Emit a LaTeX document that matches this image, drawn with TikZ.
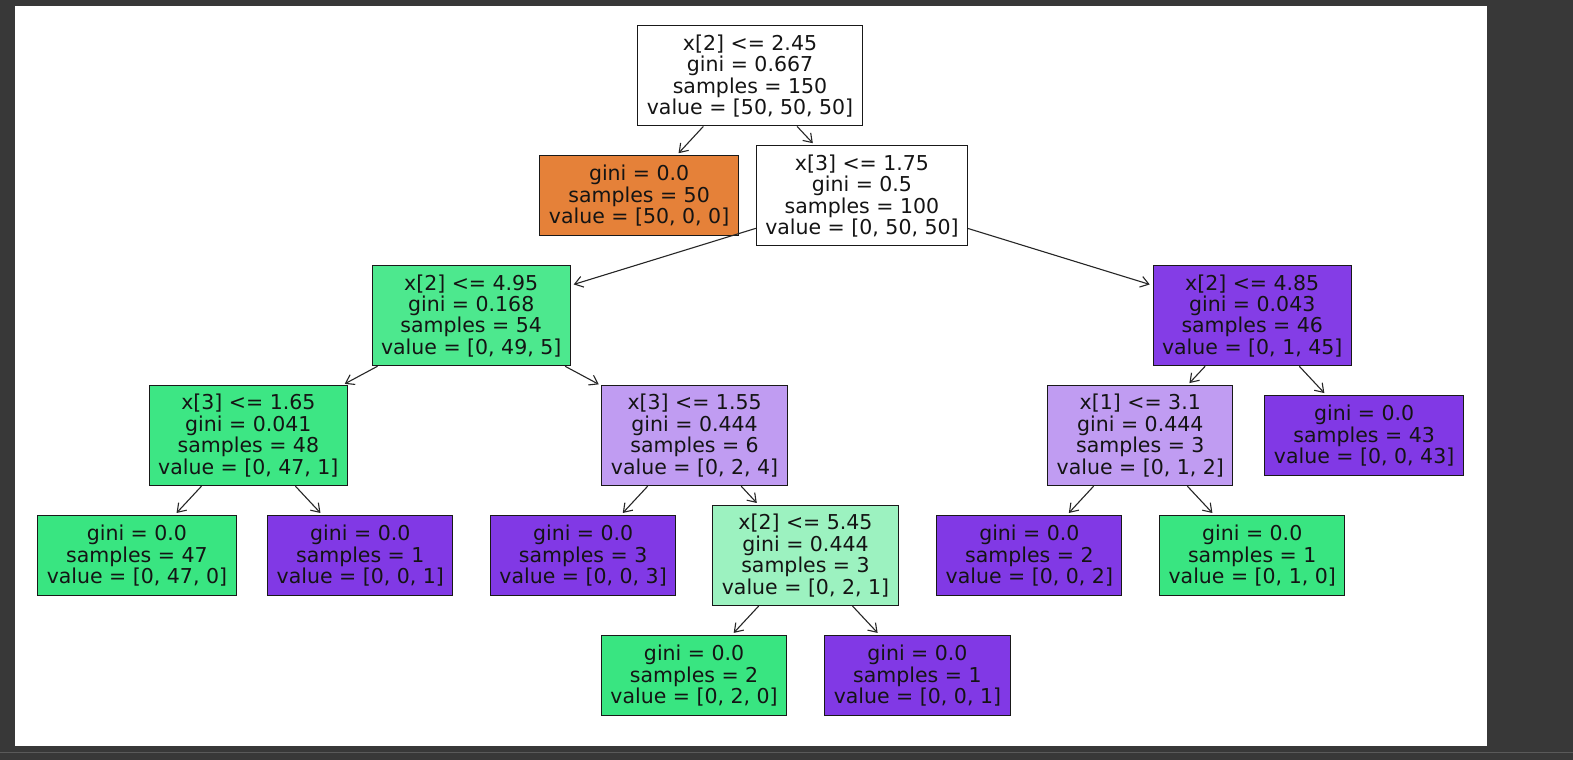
\documentclass[tikz,border=0pt]{standalone}
\usepackage{fontspec}
\setmainfont{DejaVu Sans}
\usetikzlibrary{arrows.meta}
\definecolor{bgdark}{HTML}{383838}
\definecolor{sepline}{HTML}{5A5A5A}
\definecolor{corange}{HTML}{E58139}
\definecolor{cgreen}{HTML}{39E581}
\definecolor{cpurple}{HTML}{8139E5}
\definecolor{cgreenA}{HTML}{4DE88E}
\definecolor{cgreenB}{HTML}{3DE684}
\definecolor{cgreenD}{HTML}{9CF2C0}
\definecolor{cpurpleC}{HTML}{C09CF2}
\definecolor{cpurpleE}{HTML}{843DE6}
\tikzset{
  tbox/.style={draw=black!90, line width=1pt, align=center, inner xsep=9pt, inner ysep=0pt,
    font=\fontsize{20.5}{21.5}\selectfont, text=black!92},
  split/.style={tbox, minimum height=100pt},
  leaf/.style={tbox, minimum height=80pt},
  edge/.style={draw=black!85, line width=1.1pt, -{Straight Barb[length=8pt,width=11pt,line width=1.1pt]}, shorten >=3pt}
}
\begin{document}
\begin{tikzpicture}[x=1pt,y=-1pt]
\fill[bgdark] (0,0) rectangle (1573,760);
\fill[white] (15,6) rectangle (1487,746);
\draw[sepline, line width=1pt] (0,753) -- (1573,753);
\useasboundingbox (0,0) rectangle (1573,760);

\node[split, fill=white] (r) at (750,76) {x[2] <= 2.45\\gini = 0.667\\samples = 150\\value = [50, 50, 50]};
\node[leaf, fill=corange] (o) at (639,196) {gini = 0.0\\samples = 50\\value = [50, 0, 0]};
\node[split, fill=white] (n2) at (862,196) {x[3] <= 1.75\\gini = 0.5\\samples = 100\\value = [0, 50, 50]};
\node[split, fill=cgreenA] (a) at (471,316) {x[2] <= 4.95\\gini = 0.168\\samples = 54\\value = [0, 49, 5]};
\node[split, fill=cpurpleE] (e) at (1252.5,316) {x[2] <= 4.85\\gini = 0.043\\samples = 46\\value = [0, 1, 45]};
\node[split, fill=cgreenB] (b) at (248,436) {x[3] <= 1.65\\gini = 0.041\\samples = 48\\value = [0, 47, 1]};
\node[split, fill=cpurpleC] (c) at (694.5,436) {x[3] <= 1.55\\gini = 0.444\\samples = 6\\value = [0, 2, 4]};
\node[split, fill=cpurpleC] (f) at (1140.5,436) {x[1] <= 3.1\\gini = 0.444\\samples = 3\\value = [0, 1, 2]};
\node[leaf, fill=cpurple] (l43) at (1364.5,436) {gini = 0.0\\samples = 43\\value = [0, 0, 43]};
\node[leaf, fill=cgreen] (l47) at (136.5,556) {gini = 0.0\\samples = 47\\value = [0, 47, 0]};
\node[leaf, fill=cpurple] (l1a) at (360,556) {gini = 0.0\\samples = 1\\value = [0, 0, 1]};
\node[leaf, fill=cpurple] (l3) at (583,556) {gini = 0.0\\samples = 3\\value = [0, 0, 3]};
\node[split, fill=cgreenD] (d) at (805.5,556) {x[2] <= 5.45\\gini = 0.444\\samples = 3\\value = [0, 2, 1]};
\node[leaf, fill=cpurple] (l2p) at (1029.5,556) {gini = 0.0\\samples = 2\\value = [0, 0, 2]};
\node[leaf, fill=cgreen] (l1g) at (1252.5,556) {gini = 0.0\\samples = 1\\value = [0, 1, 0]};
\node[leaf, fill=cgreen] (l2g) at (694,676) {gini = 0.0\\samples = 2\\value = [0, 2, 0]};
\node[leaf, fill=cpurple] (l1p) at (917.5,676) {gini = 0.0\\samples = 1\\value = [0, 0, 1]};

\draw[edge] (r) -- (o);
\draw[edge] (r) -- (n2);
\draw[edge] (n2) -- (a);
\draw[edge] (n2) -- (e);
\draw[edge] (a) -- (b);
\draw[edge] (a) -- (c);
\draw[edge] (b) -- (l47);
\draw[edge] (b) -- (l1a);
\draw[edge] (c) -- (l3);
\draw[edge] (c) -- (d);
\draw[edge] (d) -- (l2g);
\draw[edge] (d) -- (l1p);
\draw[edge] (e) -- (f);
\draw[edge] (e) -- (l43);
\draw[edge] (f) -- (l2p);
\draw[edge] (f) -- (l1g);
\end{tikzpicture}
\end{document}
